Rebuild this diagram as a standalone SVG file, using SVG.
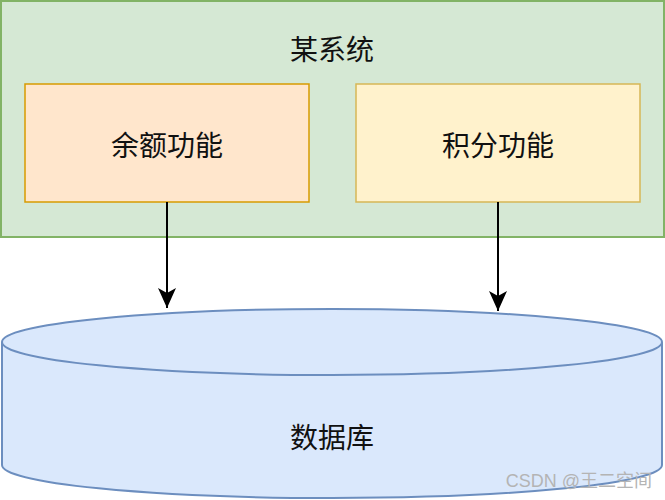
<svg xmlns="http://www.w3.org/2000/svg" width="665" height="500" viewBox="0 0 665 500">
<style>
.lbl{font-family:"Noto Sans CJK SC","Noto Sans",sans-serif;font-size:28px;fill:#111;text-anchor:middle;dominant-baseline:central}
.edge{stroke:#000;stroke-width:2;fill:none}
</style>
<defs>
<marker id="arr" markerUnits="userSpaceOnUse" markerWidth="22" markerHeight="22" refX="20" refY="10" orient="auto">
<path d="M0,1 L20,10 L0,19 L5,10 Z" fill="#000"/>
</marker>
</defs>
<rect width="665" height="500" fill="#fff"/>
<g id="system">
<rect x="1" y="1" width="663" height="236" fill="#d5e8d4" stroke="#82b366" stroke-width="2"/>
<text class="lbl" x="332" y="48">某系统</text>
</g>
<g id="balance">
<rect x="25" y="84" width="284" height="118" fill="#ffe6cc" stroke="#d79b00" stroke-width="1.5"/>
<text class="lbl" x="167" y="144">余额功能</text>
</g>
<g id="points">
<rect x="356" y="84" width="284" height="118" fill="#fff2cc" stroke="#d6b656" stroke-width="1.5"/>
<text class="lbl" x="498" y="144">积分功能</text>
</g>
<g id="database">
<path d="M2,342 A330,33 0 0 1 662,342 L662,465 A330,33 0 0 1 2,465 Z" fill="#dae8fc" stroke="#6c8ebf" stroke-width="2"/>
<path d="M2,342 A330,33 0 0 0 662,342" fill="none" stroke="#6c8ebf" stroke-width="2"/>
<text class="lbl" x="332" y="436">数据库</text>
</g>
<g id="connectors">
<line class="edge" x1="167" y1="202" x2="167" y2="308" marker-end="url(#arr)"/>
<line class="edge" x1="498" y1="202" x2="498" y2="311" marker-end="url(#arr)"/>
</g>
<text x="652" y="487" font-family="Liberation Sans,Noto Sans CJK SC,sans-serif" font-size="18" fill="#b4b4b4" text-anchor="end">CSDN @王二空间</text>
</svg>
